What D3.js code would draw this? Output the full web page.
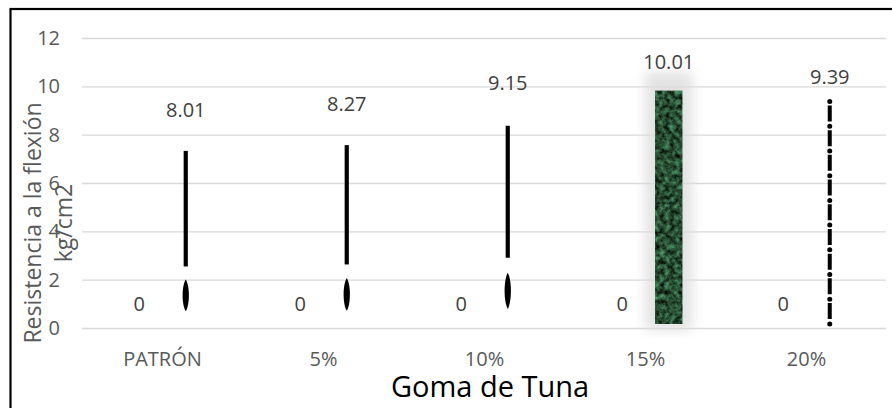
<!DOCTYPE html>
<html>
<head>
<meta charset="utf-8">
<script src="https://cdn.jsdelivr.net/npm/d3@7/dist/d3.min.js"></script>
<style>
  html, body { margin: 0; padding: 0; background: #fff; }
  svg { display: block; font-family: "Open Sans", sans-serif; }
</style>
</head>
<body>
<svg id="chart" width="892" height="408"></svg>
<script>
// ---- data ----
const categories = ["PATRÓN", "5%", "10%", "15%", "20%"];
const seriesNames = ["Serie1", "Serie2"];
const serie1Values = [0, 0, 0, 0, 0];
const serie2Values = [8.01, 8.27, 9.15, 10.01, 9.39];
const yTicks = [0, 2, 4, 6, 8, 10, 12];
const xTitle = "Goma de Tuna";
const yTitleLines = ["Resistencia a la flexión", "kg/cm2"];

// ---- chart ----
const svg = d3.select("#chart");
const plot = { left: 82, right: 887, top: 38, bottom: 328 };

const x0 = d3.scaleBand().domain(categories).range([plot.left, plot.right]).paddingInner(0).paddingOuter(0);
const x1 = d3.scaleBand().domain(seriesNames).range([0, x0.bandwidth()]).paddingInner(0).paddingOuter(0.731);
const y = d3.scaleLinear().domain([0, 12]).range([plot.bottom, plot.top]);

const defs = svg.append("defs");
// marble-like green texture
const marble = defs.append("filter").attr("id", "marble").attr("x", 0).attr("y", 0).attr("width", 1).attr("height", 1)
  .attr("color-interpolation-filters", "sRGB");
marble.append("feTurbulence").attr("type", "fractalNoise").attr("baseFrequency", "0.2").attr("numOctaves", 4).attr("seed", 7).attr("result", "noise");
marble.append("feColorMatrix").attr("in", "noise").attr("type", "matrix")
  .attr("values", "0.45 0 0 0 -0.07  0.85 0 0 0 -0.12  0.6 0 0 0 -0.1  0 0 0 0 1").attr("result", "col");
marble.append("feComposite").attr("in", "col").attr("in2", "SourceGraphic").attr("operator", "in");
// soft glow
const glow = defs.append("filter").attr("id", "glow").attr("x", "-100%").attr("y", "-20%").attr("width", "300%").attr("height", "140%");
glow.append("feGaussianBlur").attr("stdDeviation", 6);

// outer border
svg.append("rect").attr("x", 10.5).attr("y", 9).attr("width", 1000).attr("height", 600)
  .attr("fill", "#fff").attr("stroke", "#000").attr("stroke-width", 2.2);

// y axis with gridlines
const yAxis = svg.append("g").attr("transform", `translate(${plot.left},0)`)
  .call(d3.axisLeft(y).tickValues(yTicks).tickSize(-(plot.right - 1 - plot.left)).tickPadding(22).tickFormat(d3.format("d")));
yAxis.select(".domain").remove();
yAxis.selectAll(".tick line").attr("stroke", "#d9d9d9").attr("stroke-width", 1.4);
yAxis.selectAll(".tick text").attr("fill", "#595959").attr("font-size", 20).attr("font-family", "Open Sans");

// x axis labels
const xAxis = svg.append("g").attr("transform", `translate(0,${plot.bottom})`)
  .call(d3.axisBottom(x0).tickSize(0).tickPadding(0));
xAxis.select(".domain").remove();
xAxis.selectAll(".tick text").attr("y", 38).attr("dy", 0).attr("fill", "#595959").attr("font-size", 20).attr("font-family", "Open Sans");

// bars
const barData = categories.map((c, i) => ({ cat: c, i, v1: serie1Values[i], v2: serie2Values[i] }));
const cx2 = d => x0(d.cat) + x1("Serie2") + x1.bandwidth() / 2;
const cx1 = d => x0(d.cat) + x1("Serie1") + x1.bandwidth() / 2;
const fillType = ["exclaim", "exclaim", "exclaim", "marble", "dashdot"];

const bars = svg.append("g").selectAll("g").data(barData).join("g");

bars.each(function(d) {
  const g = d3.select(this);
  const type = fillType[d.i];
  const cx = cx2(d);
  const y0 = y(0), yv = y(d.v2);
  if (type === "exclaim") {
    g.append("line").attr("x1", cx).attr("x2", cx)
      .attr("y1", y(d.v2 * 0.915)).attr("y2", y(d.v2 * 0.318))
      .attr("stroke", "#000").attr("stroke-width", 4.2);
    const dTop = y(d.v2 * 0.25), dBot = y(d.v2 * 0.086);
    const dm = (dTop + dBot) / 2, h = (dBot - dTop) / 2;
    g.append("path")
      .attr("d", `M${cx},${dTop} C${cx + 4.2},${dm - h * 0.6} ${cx + 4.2},${dm + h * 0.6} ${cx},${dBot} C${cx - 4.2},${dm + h * 0.6} ${cx - 4.2},${dm - h * 0.6} ${cx},${dTop}Z`)
      .attr("fill", "#000");
  } else if (type === "marble") {
    const bw = x1.bandwidth() * 0.59;
    g.append("rect").attr("x", cx - bw / 2 - 10).attr("y", yv - 14).attr("width", bw + 20).attr("height", y0 - yv + 16)
      .attr("fill", "#dcdcdc").attr("opacity", 0.8).attr("filter", "url(#glow)");
    g.append("rect").attr("x", cx - bw / 2).attr("y", yv + 4.5).attr("width", bw).attr("height", y0 - yv - 8.5)
      .attr("fill", "#1f5a34").attr("filter", "url(#marble)");
  } else if (type === "dashdot") {
    const period = 24.7;
    g.append("line").attr("x1", cx).attr("x2", cx).attr("y1", yv).attr("y2", y0 - 2)
      .attr("stroke", "#000").attr("stroke-width", 4)
      .attr("stroke-dasharray", `16 ${period - 16}`).attr("stroke-dashoffset", period - 4.35);
    g.append("line").attr("x1", cx).attr("x2", cx).attr("y1", yv + 0.5).attr("y2", y0 - 2)
      .attr("stroke", "#000").attr("stroke-width", 5).attr("stroke-linecap", "round")
      .attr("stroke-dasharray", `0 ${period}`);
  }
});

// data labels
const labels = svg.append("g").attr("font-size", 20).attr("fill", "#404040").attr("text-anchor", "middle");
labels.selectAll("text.s1").data(barData).join("text").attr("class", "s1")
  .attr("x", cx1).attr("y", d => y(d.v1) - 24).attr("dy", "0.35em").text(d => d3.format("")(d.v1));
labels.selectAll("text.s2").data(barData).join("text").attr("class", "s2")
  .attr("x", cx2).attr("y", d => y(d.v2) - 24).attr("dy", "0.35em").text(d => d.v2.toFixed(2));

// axis titles
svg.append("text").attr("x", 490).attr("y", 397).attr("text-anchor", "middle")
  .attr("font-size", 29).attr("fill", "#000").text(xTitle);

const yt = svg.append("text").attr("transform", "translate(0,223) rotate(-90)")
  .attr("text-anchor", "middle").attr("font-size", 23).attr("fill", "#595959");
yt.append("tspan").attr("x", 0).attr("y", 33).attr("dy", "0.35em").text(yTitleLines[0]);
yt.append("tspan").attr("x", 0).attr("y", 64).attr("dy", "0.35em").text(yTitleLines[1]);
</script>
</body>
</html>
